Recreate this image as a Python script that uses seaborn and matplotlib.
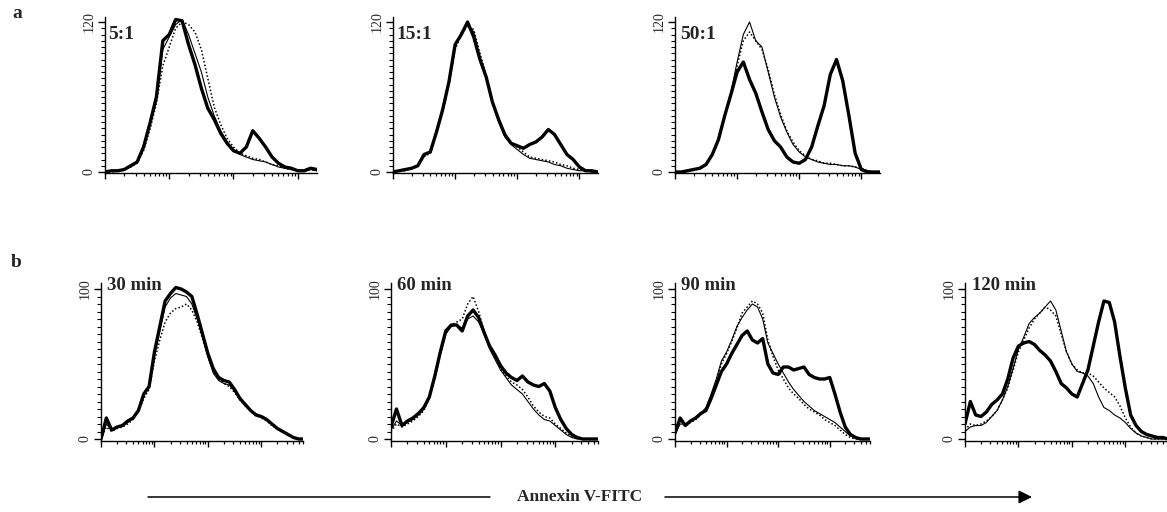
import matplotlib
matplotlib.use("Agg")
import matplotlib.pyplot as plt
import numpy as np
import seaborn as sns

sns.set_style("ticks")
plt.rcParams["font.family"] = ["Liberation Serif", "DejaVu Serif"]

# ---------------- data (log10 fluorescence decades, cell counts) ----------------
DEC_A = [0.0, 0.1, 0.2, 0.3, 0.4, 0.5, 0.6, 0.7, 0.8, 0.9, 1.0, 1.1, 1.2, 1.3, 1.4, 1.5, 1.6,
         1.7, 1.8, 1.9, 2.0, 2.1, 2.2, 2.3, 2.4, 2.5, 2.6, 2.7, 2.8, 2.9, 3.0, 3.1, 3.2, 3.3]
DEC_B = [0.0, 0.1, 0.2, 0.3, 0.4, 0.5, 0.6, 0.7, 0.8, 0.9, 1.0, 1.1, 1.2, 1.3, 1.4, 1.5, 1.6,
         1.7, 1.8, 1.9, 2.0, 2.1, 2.2, 2.3, 2.4, 2.5, 2.6, 2.7, 2.8, 2.9, 3.0, 3.1, 3.2, 3.3,
         3.4, 3.5, 3.6, 3.7, 3.8]

labels_a = ["5:1", "15:1", "50:1"]
labels_b = ["30 min", "60 min", "90 min", "120 min"]

# row a : effector:target ratios
a1_thick = [0, 1, 1, 2, 5, 8, 20, 39, 60, 105, 110, 122, 121, 102, 86, 67, 51, 42, 31, 23,
            17, 15, 20, 33, 27, 20, 12, 7, 4, 3, 1, 1, 3, 2]
a1_thin = [0, 1, 1, 2, 4, 8, 19, 37, 58, 98, 108, 118, 122, 110, 95, 80, 60, 45, 33, 24,
           18, 14, 12, 10, 9, 8, 6, 4, 3, 2, 1, 1, 2, 1]
a1_dot = [0, 0, 1, 2, 4, 7, 17, 34, 55, 85, 100, 115, 120, 118, 112, 98, 75, 52, 38, 27,
          20, 15, 13, 11, 10, 8, 6, 5, 3, 2, 1, 1, 2, 1]

a2_thick = [0, 1, 2, 3, 5, 14, 16, 32, 50, 72, 102, 110, 120, 108, 90, 76, 56, 42, 30, 23,
            21, 19, 22, 24, 28, 34, 30, 22, 14, 10, 4, 1, 1, 0]
a2_thin = [0, 1, 2, 3, 5, 13, 16, 31, 49, 70, 100, 112, 118, 112, 92, 76, 55, 40, 28, 22,
           18, 14, 11, 10, 9, 8, 6, 5, 3, 2, 1, 1, 0, 0]
a2_dot = [0, 1, 1, 3, 5, 12, 15, 30, 48, 70, 98, 110, 117, 114, 95, 78, 57, 41, 29, 23,
          20, 16, 12, 11, 10, 9, 8, 6, 5, 3, 2, 1, 0, 0]

a3_thick = [0, 0, 1, 2, 3, 6, 14, 26, 45, 62, 80, 88, 74, 63, 48, 34, 25, 20, 12, 8,
            7, 10, 20, 37, 53, 78, 90, 73, 45, 15, 2, 0, 0, 0]
a3_thin = [0, 0, 1, 2, 3, 6, 14, 27, 46, 64, 88, 110, 120, 105, 100, 80, 60, 44, 32, 22,
           16, 12, 10, 8, 7, 6, 6, 5, 5, 4, 2, 1, 0, 0]
a3_dot = [0, 0, 1, 2, 3, 6, 13, 25, 44, 62, 85, 105, 112, 105, 98, 82, 62, 46, 33, 24,
          17, 13, 10, 9, 7, 7, 6, 5, 5, 4, 3, 1, 0, 0]

# row b : incubation time
b1_thick = [0, 14, 6, 8, 9, 12, 14, 19, 30, 35, 58, 75, 92, 97, 101, 100, 98, 95, 83, 70,
            57, 47, 41, 39, 38, 33, 27, 23, 19, 16, 15, 13, 10, 7, 5, 3, 1, 0, 0]
b1_thin = [0, 10, 6, 8, 9, 11, 14, 19, 29, 36, 56, 72, 88, 94, 97, 96, 95, 90, 80, 68,
           55, 44, 39, 37, 36, 32, 27, 23, 19, 17, 15, 13, 10, 7, 5, 3, 1, 0, 0]
b1_dot = [0, 8, 5, 7, 8, 10, 13, 18, 27, 33, 52, 66, 78, 84, 87, 88, 90, 86, 78, 67,
          55, 45, 40, 37, 35, 31, 26, 22, 19, 16, 14, 12, 9, 7, 5, 3, 1, 0, 0]

b2_thick = [8, 20, 9, 12, 14, 17, 21, 28, 42, 58, 72, 76, 76, 72, 82, 86, 81, 71, 62, 56,
            49, 44, 41, 39, 42, 38, 36, 35, 37, 32, 21, 13, 7, 3, 1, 0, 0, 0, 0]
b2_thin = [6, 12, 9, 11, 13, 16, 20, 28, 41, 57, 70, 75, 76, 74, 80, 82, 78, 70, 60, 53,
           46, 41, 36, 33, 30, 25, 20, 16, 13, 12, 9, 6, 3, 1, 0, 0, 0, 0, 0]
b2_dot = [5, 10, 8, 10, 12, 15, 19, 27, 40, 56, 70, 76, 78, 80, 90, 95, 85, 72, 62, 54,
          47, 42, 38, 36, 33, 28, 22, 18, 15, 14, 10, 7, 4, 2, 1, 0, 0, 0, 0]

b3_thick = [4, 14, 9, 12, 14, 17, 19, 27, 36, 45, 50, 57, 63, 69, 72, 66, 64, 67, 50, 44,
            43, 48, 48, 46, 47, 48, 43, 41, 40, 40, 41, 30, 18, 8, 3, 1, 0, 0, 0]
b3_thin = [3, 10, 10, 12, 14, 17, 21, 30, 40, 52, 58, 66, 75, 81, 86, 90, 88, 80, 64, 57,
           50, 44, 38, 33, 29, 25, 22, 19, 17, 15, 13, 11, 8, 5, 2, 1, 0, 0, 0]
b3_dot = [3, 12, 9, 11, 13, 16, 20, 28, 38, 50, 57, 65, 74, 84, 88, 92, 90, 84, 66, 55,
          46, 40, 34, 30, 27, 23, 20, 18, 16, 13, 11, 9, 6, 3, 1, 0, 0, 0, 0]

b4_thick = [10, 25, 16, 15, 18, 23, 26, 30, 40, 54, 62, 64, 65, 63, 59, 56, 52, 45, 37, 34,
            30, 28, 37, 46, 62, 78, 92, 91, 78, 55, 34, 16, 9, 5, 3, 2, 1, 1, 0]
b4_thin = [5, 8, 9, 9, 11, 15, 19, 26, 35, 47, 60, 68, 77, 81, 84, 88, 92, 86, 72, 58,
           50, 45, 44, 42, 37, 28, 21, 19, 16, 14, 11, 7, 4, 2, 1, 0, 0, 0, 0]
b4_dot = [6, 10, 9, 10, 12, 15, 19, 26, 34, 46, 58, 66, 74, 80, 84, 88, 86, 82, 70, 58,
          50, 46, 44, 44, 42, 38, 34, 31, 28, 22, 14, 8, 4, 2, 1, 0, 0, 0, 0]

row_a = [(a1_thin, a1_dot, a1_thick), (a2_thin, a2_dot, a2_thick), (a3_thin, a3_dot, a3_thick)]
row_b = [(b1_thin, b1_dot, b1_thick), (b2_thin, b2_dot, b2_thick),
         (b3_thin, b3_dot, b3_thick), (b4_thin, b4_dot, b4_thick)]

# ---------------- layout (pixels) ----------------
W, H = 1167, 512
fig = plt.figure(figsize=(W / 100, H / 100), dpi=100)


def px_axes(left, top, width, height):
    return fig.add_axes([left / W, 1 - (top + height) / H, width / W, height / H])


def style_axis(ax, xmax, ymax, ytop):
    ax.set_xlim(0, xmax)
    ax.set_ylim(-1, ytop)
    for s in ["top", "right"]:
        ax.spines[s].set_visible(False)
    for s in ["left", "bottom"]:
        ax.spines[s].set_linewidth(1.0)
        ax.spines[s].set_color("black")
    majors = [d for d in range(0, 5) if d <= xmax]
    minors = [n + np.log10(k) for n in range(0, 5) for k in range(2, 10) if n + np.log10(k) <= xmax]
    ax.set_xticks(majors)
    ax.set_xticks(minors, minor=True)
    ax.set_xticklabels([])
    ax.set_yticks([0, ymax])
    ax.set_yticklabels([str(0), str(ymax)], rotation=90, va="center", fontsize=10)
    ax.set_yticks(list(range(5, ymax, 5)), minor=True)
    ax.tick_params(axis="x", which="major", length=4.5, width=1.0, direction="out", color="black")
    ax.tick_params(axis="x", which="minor", length=2.5, width=0.9, direction="out", color="black")
    ax.tick_params(axis="y", which="major", length=5, width=1.0, direction="out", pad=2, color="black")
    ax.tick_params(axis="y", which="minor", length=3, width=0.8, direction="out", color="black")
    ax.set_xlabel("")
    ax.set_ylabel("")


def draw_panel(ax, xs, thin, dot, thick):
    sns.lineplot(x=xs, y=thin, ax=ax, color="black", lw=0.8, estimator=None, sort=False)
    sns.lineplot(x=xs, y=dot, ax=ax, color="black", lw=1.1, linestyle=(0, (1, 1.4)),
                 estimator=None, sort=False)
    sns.lineplot(x=xs, y=thick, ax=ax, color="black", lw=2.4, estimator=None, sort=False)


# row a
a_left = [105, 393, 675]
a_width = [212, 205, 205]
a_top, a_h = 17, 156.25
a_text_dx = [3, 3, 5]
for i, (thin, dot, thick) in enumerate(row_a):
    ax = px_axes(a_left[i], a_top, a_width[i], a_h)
    draw_panel(ax, DEC_A, thin, dot, thick)
    style_axis(ax, 3.3, 120, 124)
    ax.text(a_text_dx[i] / a_width[i], 1 - 22 / a_h, labels_a[i], transform=ax.transAxes,
            fontsize=14, fontweight="bold", va="baseline", ha="left")

# row b
b_left = [101, 391, 675, 965]
b_width = [202, 207, 195, 202]
b_top, b_h = 283, 157.5
b_text_dx = [6, 6, 6, 7]
for i, (thin, dot, thick) in enumerate(row_b):
    ax = px_axes(b_left[i], b_top, b_width[i], b_h)
    draw_panel(ax, DEC_B, thin, dot, thick)
    style_axis(ax, 3.78, 100, 104)
    ax.text(b_text_dx[i] / b_width[i], 1 - 7 / b_h, labels_b[i], transform=ax.transAxes,
            fontsize=13.5, fontweight="bold", va="baseline", ha="left")

# overlay for panel letters and axis caption
ov = fig.add_axes([0, 0, 1, 1], zorder=-1)
ov.set_xlim(0, W)
ov.set_ylim(H, 0)
ov.axis("off")
ov.text(12, 18, "a", fontsize=14, fontweight="bold", va="baseline", ha="left")
ov.text(11, 267, "b", fontsize=14, fontweight="bold", va="baseline", ha="left")
ov.text(580, 497, "Annexin V-FITC", fontsize=12.5, fontweight="bold", va="center", ha="center")
ov.plot([148, 490], [497, 497], color="black", lw=1.1)
ov.annotate("", xy=(1032, 497), xytext=(665, 497),
            arrowprops=dict(arrowstyle="-|>", lw=1.1, color="black", mutation_scale=20,
                            shrinkA=0, shrinkB=0))

fig.savefig("out.png", dpi=100, facecolor="white")
